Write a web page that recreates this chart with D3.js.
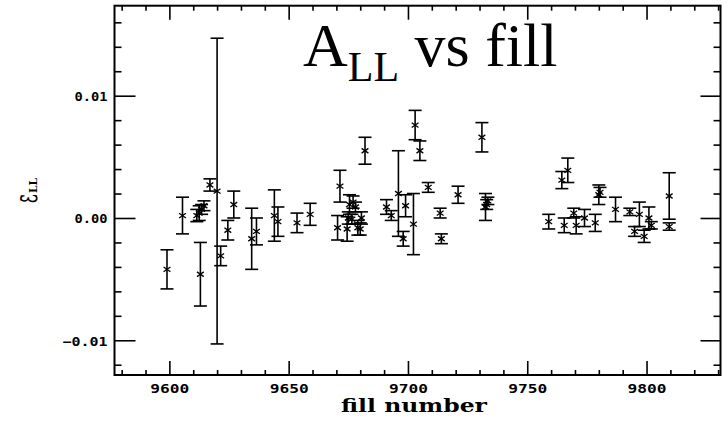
<!DOCTYPE html>
<html><head><meta charset="utf-8">
<script src="https://cdn.jsdelivr.net/npm/d3@7"></script>
<style>body{margin:0;background:#fff}svg{display:block}</style>
</head><body>
<svg id="c" width="728" height="421"></svg>
<script>
const fills = [9599,9605.5,9611.5,9612.5,9613.5,9614.5,9613,9617,9620,9621.5,9624.5,9627,9634.5,9636.5,9644,9645.5,9653.5,9659,
  9671.5,9670.5,9674.5,9675,9675.5,9676.5,9677,9678,9679,9680.5,9680,9682,9691,9693,9696,9698,9699,9702.3,9703,9705,9708.5,
  9713.5,9714,9721,9731,9732.5,9733,9733.5,9759,9764.5,9765.5,9767,9769.5,9770.5,9774,9778.5,9780,9780.5,9787,9793,9795,
  9797,9799,9801,9802,9809.5,9809.5];
const values = [-0.0042,0.0002,0.0002,0.0004,0.0007,0.0010,-0.0046,0.0027,0.0022,-0.0031,-0.0010,0.0011,-0.0017,-0.0011,0.0002,-0.0003,-0.0004,0.0003,
  0.0026,-0.0008,-0.0009,0.0000,0.0011,-0.0001,0.0013,0.0009,-0.0008,0.0000,-0.0009,0.0055,0.0009,0.0002,0.0020,-0.0017,0.0010,-0.0005,0.0076,0.0055,0.0025,
  0.0004,-0.0017,0.0019,0.0066,0.0009,0.0011,0.0014,-0.0003,0.0031,-0.0006,0.0039,0.0004,-0.0006,0.0000,-0.0004,0.0019,0.0021,0.0007,0.0005,-0.0011,
  0.0003,-0.0015,0.0000,-0.0006,0.0018,-0.0007];
const errors = [0.0016,0.0015,0.0005,0.0006,0.0004,0.0004,0.0026,0.0005,0.0125,0.0008,0.0008,0.0011,0.0025,0.0011,0.0021,0.0012,0.0008,0.0009,
  0.0013,0.0010,0.0010,0.0005,0.0008,0.0004,0.0005,0.0004,0.0006,0.0005,0.0005,0.0011,0.0006,0.0004,0.0035,0.0006,0.0009,0.0025,0.0012,0.0008,0.0004,
  0.0004,0.0004,0.0007,0.0012,0.0011,0.0004,0.0003,0.0006,0.0007,0.0006,0.0010,0.0004,0.0007,0.0007,0.0007,0.0008,0.0004,0.0010,0.0003,0.0004,
  0.0010,0.0005,0.0009,0.0003,0.0019,0.0003];
const xMajor = [9600,9650,9700,9750,9800];
const xLabels = ["9600","9650","9700","9750","9800"];
const yMajor = [-0.01,0,0.01];
const yLabels = ["\u22120.01","0.00","0.01"];

const svg = d3.select("#c");
const L=114.5, R=720.5, T=5.7, B=375;
const x = d3.scaleLinear().domain([9577,9831]).range([L,R]);
const y = d3.scaleLinear().domain([-0.01284,0.01736]).range([B,T]);

const xMinor = d3.range(9580,9831,10).filter(v=>v%50!==0);
const yMinor = d3.range(-12,17.1,2).map(v=>v/1000).filter(v=>Math.abs(Math.round(v*1000))%10!==0);

function styleAxis(g){ g.select(".domain").remove(); g.selectAll("line").attr("stroke","#000").attr("stroke-width",1.6); }

// bottom
svg.append("g").attr("transform",`translate(0,${B})`)
  .call(d3.axisBottom(x).tickValues(xMajor).tickFormat((d,i)=>xLabels[i]).tickSize(-14).tickPadding(9))
  .call(styleAxis)
  .call(g=>g.selectAll("text").attr("font-family","DejaVu Sans Mono").attr("font-weight","bold").attr("font-size",12)
     .attr("fill","#000").attr("textLength",39).attr("lengthAdjust","spacingAndGlyphs"));
svg.append("g").attr("transform",`translate(0,${B})`)
  .call(d3.axisBottom(x).tickValues(xMinor).tickFormat("").tickSize(-5)).call(styleAxis);
// top
svg.append("g").attr("transform",`translate(0,${T})`)
  .call(d3.axisTop(x).tickValues(xMajor).tickFormat("").tickSize(-14)).call(styleAxis);
svg.append("g").attr("transform",`translate(0,${T})`)
  .call(d3.axisTop(x).tickValues(xMinor).tickFormat("").tickSize(-5)).call(styleAxis);
// left
svg.append("g").attr("transform",`translate(${L},0)`)
  .call(d3.axisLeft(y).tickValues(yMajor).tickFormat((d,i)=>yLabels[i]).tickSize(-21).tickPadding(7))
  .call(styleAxis)
  .call(g=>g.selectAll("text").attr("font-family","DejaVu Sans Mono").attr("font-weight","bold").attr("font-size",12)
     .attr("fill","#000").attr("dy","0.4em")
     .attr("textLength",(d,i)=>i===0?45:33).attr("lengthAdjust","spacingAndGlyphs"));
svg.append("g").attr("transform",`translate(${L},0)`)
  .call(d3.axisLeft(y).tickValues(yMinor).tickFormat("").tickSize(-7)).call(styleAxis);
// right
svg.append("g").attr("transform",`translate(${R},0)`)
  .call(d3.axisRight(y).tickValues(yMajor).tickFormat("").tickSize(-20)).call(styleAxis);
svg.append("g").attr("transform",`translate(${R},0)`)
  .call(d3.axisRight(y).tickValues(yMinor).tickFormat("").tickSize(-7)).call(styleAxis);

// frame
svg.append("rect").attr("x",L).attr("y",T).attr("width",R-L).attr("height",B-T)
  .attr("fill","none").attr("stroke","#000").attr("stroke-width",2);

// data
const data = fills.map((f,i)=>({f, v:values[i], e:errors[i]}));
const pts = svg.append("g").attr("stroke","#000").attr("fill","none");
const cap = 6.5, m = 3.4;
data.forEach(d=>{
  const cx = x(d.f), cy = y(d.v), y1 = y(d.v+d.e), y2 = y(d.v-d.e);
  const g = pts.append("g");
  g.append("line").attr("x1",cx).attr("x2",cx).attr("y1",y1).attr("y2",y2).attr("stroke-width",1.6);
  g.append("line").attr("x1",cx-cap).attr("x2",cx+cap).attr("y1",y1).attr("y2",y1).attr("stroke-width",1.6);
  g.append("line").attr("x1",cx-cap).attr("x2",cx+cap).attr("y1",y2).attr("y2",y2).attr("stroke-width",1.6);
  g.append("path").attr("d",`M${cx-m},${cy-m*0.7}L${cx+m},${cy+m*0.7}M${cx-m},${cy+m*0.7}L${cx+m},${cy-m*0.7}`).attr("stroke-width",1.3);
});

// axis titles
svg.append("text").attr("x",414).attr("y",412).attr("text-anchor","middle")
  .attr("font-family","DejaVu Serif").attr("font-weight","bold").attr("font-size",18).attr("fill","#000")
  .attr("textLength",146).attr("lengthAdjust","spacingAndGlyphs").text("fill number");
const yg = svg.append("g").style("transform","translate(37px,203px) rotate(-90deg)").style("transform-origin","0 0");
yg.append("text").attr("x",0).attr("y",0).style("transform","scale(0.85,1.6)").style("transform-origin","0 0")
  .attr("font-family","DejaVu Serif").attr("font-size",20).attr("fill","#000").text("\u03b5");
yg.append("text").attr("x",10).attr("y",0)
  .attr("font-family","DejaVu Serif").attr("font-weight","bold").attr("font-size",11).attr("fill","#000")
  .attr("textLength",15).attr("lengthAdjust","spacingAndGlyphs").text("LL");

// title
const t = svg.append("text").attr("x",303).attr("y",66).attr("font-family","Liberation Serif").attr("fill","#000");
t.append("tspan").attr("font-size",62).text("A");
t.append("tspan").attr("font-size",42).attr("dy",15).text("LL");
t.append("tspan").attr("font-size",62).attr("dy",-15).text(" vs fill");
</script>
</body></html>
